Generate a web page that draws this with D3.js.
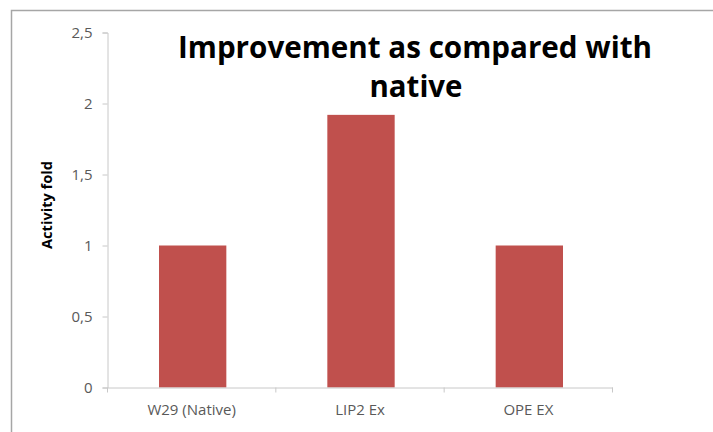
<!DOCTYPE html>
<html><head><meta charset="utf-8">
<script src="https://cdn.jsdelivr.net/npm/d3@7"></script>
<style>body{margin:0;background:#fff}svg{display:block}</style>
</head><body>
<script>
const categories = ["W29 (Native)", "LIP2 Ex", "OPE EX"];
const values = [1, 1.92, 1];
const yTicks = [0, 0.5, 1, 1.5, 2, 2.5];
const titleLines = ["Improvement as compared with", "native"];
const yTitle = "Activity fold";

const W = 713, H = 432;
const svg = d3.select("body").append("svg").attr("width", W).attr("height", H);

// chart border
svg.append("rect").attr("x", 11.5).attr("y", 10.5).attr("width", 760).attr("height", 500)
  .attr("fill", "none").attr("stroke", "#a6a6a6").attr("stroke-width", 1.5);

const x0 = 107.5, x1 = 612.5, yb = 387.5, yt = 32.5;
const x = d3.scaleBand().domain(categories).range([x0, x1]).padding(0);
const y = d3.scaleLinear().domain([0, 2.5]).range([yb, yt]);

const font = "'Open Sans', 'Liberation Sans', sans-serif";
const axisColor = "#c8c8c8";

// y axis
const ya = svg.append("g").attr("transform", `translate(${x0},0)`)
  .call(d3.axisLeft(y).tickValues(yTicks).tickSize(5).tickPadding(10)
    .tickFormat(d => String(d).replace(".", ",")));
ya.select(".domain").attr("stroke", axisColor);
ya.selectAll(".tick line").attr("stroke", axisColor);
ya.selectAll(".tick text").attr("fill", "#595959").style("font-family", font).style("font-size", "15px");

// bars
svg.append("g").selectAll("rect").data(values).join("rect")
  .attr("x", (d, i) => x(categories[i]) + x.bandwidth() * 0.3 + 1)
  .attr("width", x.bandwidth() * 0.4)
  .attr("y", d => y(d))
  .attr("height", d => y(0) - y(d))
  .attr("fill", "#c0504d");

// x axis
const xa = svg.append("g").attr("transform", `translate(0,${yb})`)
  .call(d3.axisBottom(x).tickSize(0).tickPadding(17));
xa.select(".domain").attr("stroke", axisColor);
xa.selectAll(".tick text").attr("fill", "#595959").style("font-family", font).style("font-size", "15px");
// category boundary ticks
const bounds = categories.map(c => x(c)).concat([x1]);
xa.selectAll(".bt").data(bounds).join("line").attr("class", "bt")
  .attr("x1", d => d).attr("x2", d => d).attr("y1", 0).attr("y2", 5)
  .attr("stroke", axisColor);

// y title
svg.append("text").attr("transform", "translate(52,205) rotate(-90)")
  .attr("text-anchor", "middle").style("font-family", font).style("font-weight", "bold")
  .style("font-size", "15px").attr("fill", "#000")
  .attr("textLength", 88).attr("lengthAdjust", "spacingAndGlyphs").text(yTitle);

// title
svg.append("text").attr("x", 415).attr("y", 58).attr("text-anchor", "middle")
  .style("font-family", font).style("font-weight", "bold").style("font-size", "30px")
  .attr("textLength", 474).attr("lengthAdjust", "spacingAndGlyphs").text(titleLines[0]);
svg.append("text").attr("x", 416).attr("y", 97).attr("text-anchor", "middle")
  .style("font-family", font).style("font-weight", "bold").style("font-size", "30px")
  .attr("textLength", 93).attr("lengthAdjust", "spacingAndGlyphs").text(titleLines[1]);
</script>
</body></html>
